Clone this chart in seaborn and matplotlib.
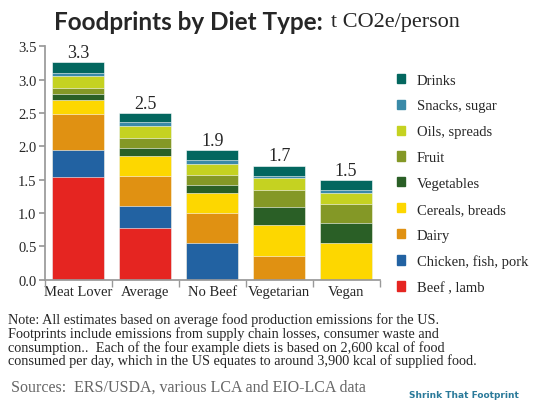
import matplotlib
matplotlib.use("Agg")
import matplotlib.pyplot as plt
from matplotlib.patches import Patch
import seaborn as sns
import numpy as np
import pandas as pd

diets = ["Meat Lover", "Average", "No Beef", "Vegetarian", "Vegan"]
categories = ["Beef , lamb", "Chicken, fish, pork", "Dairy", "Cereals, breads",
              "Vegetables", "Fruit", "Oils, spreads", "Snacks, sugar", "Drinks"]
beef = [1.54, 0.77, 0.0, 0.0, 0.0]
chicken = [0.41, 0.34, 0.55, 0.0, 0.0]
dairy = [0.54, 0.45, 0.45, 0.36, 0.0]
cereals = [0.21, 0.30, 0.30, 0.46, 0.55]
vegetables = [0.08, 0.12, 0.12, 0.27, 0.30]
fruit = [0.09, 0.15, 0.15, 0.26, 0.29]
oils = [0.18, 0.17, 0.17, 0.17, 0.16]
snacks = [0.05, 0.07, 0.06, 0.04, 0.05]
drinks = [0.16, 0.13, 0.14, 0.15, 0.14]
totals = ["3.3", "2.5", "1.9", "1.7", "1.5"]
series = [beef, chicken, dairy, cereals, vegetables, fruit, oils, snacks, drinks]
colors = ["#e52521", "#2262a2", "#e09112", "#fdd700", "#2a5f26",
          "#849826", "#c5d221", "#3a8aa8", "#03675f"]

sns.set_theme(style="white")
plt.rcParams["font.family"] = ["Liberation Serif", "DejaVu Serif"]

fig = plt.figure(figsize=(5.4, 4.1), dpi=100)
ax = fig.add_axes([0.083, 0.315, 0.62, 0.57])

cum = np.cumsum(np.array(series), axis=0)
for k in range(len(series) - 1, -1, -1):
    df = pd.DataFrame({"diet": diets, "v": cum[k]})
    sns.barplot(data=df, x="diet", y="v", color=colors[k], ax=ax, width=0.78,
                saturation=1, edgecolor="white", linewidth=0.4)
bottom = cum[-1]

for i, t in enumerate(totals):
    ax.text(i, bottom[i] + 0.02, t, ha="center", va="bottom", fontsize=13)

ax.set_ylim(0, 3.5)
ax.set_yticks(np.arange(0, 3.51, 0.5))
ax.set_yticklabels([f"{v:.1f}" for v in np.arange(0, 3.51, 0.5)], fontsize=10.5)
ax.set_xticks(range(len(diets)))
ax.set_xticklabels(diets, fontsize=10.5)
ax.set_xlabel(""); ax.set_ylabel("")
ax.set_xlim(-0.5, 4.5)
for s in ["top", "right"]:
    ax.spines[s].set_visible(False)
for s in ["left", "bottom"]:
    ax.spines[s].set_color("#999999")
ax.tick_params(axis="y", left=True, length=4, color="#999999", pad=2)
ax.set_xticks(np.arange(-0.5, 4.6, 1), minor=True)
ax.tick_params(axis="x", which="major", length=0)
ax.tick_params(axis="x", which="minor", length=5, color="#999999", bottom=True)

handles = [Patch(color=c, label=l) for c, l in zip(colors, categories)]
fig.legend(handles=handles[::-1], loc="upper left", bbox_to_anchor=(0.71, 0.85),
           frameon=False, fontsize=10.5, handlelength=0.6, handleheight=0.6,
           labelspacing=0.88)

t1 = fig.text(0.1, 0.945, "Foodprints by Diet Type: ", fontsize=17.5, fontweight="bold",
              family=["Lato", "DejaVu Sans"], va="center")
fig.canvas.draw()
bb = t1.get_window_extent().transformed(fig.transFigure.inverted())
fig.text(bb.x1 + 0.005, 0.945, "t CO2e/person", fontsize=16, va="center")

note = ("Note: All estimates based on average food production emissions for the US.\n"
        "Footprints include emissions from supply chain losses, consumer waste and\n"
        "consumption..  Each of the four example diets is based on 2,600 kcal of food\n"
        "consumed per day, which in the US equates to around 3,900 kcal of supplied food.")
fig.text(0.015, 0.235, note, fontsize=10.3, va="top", linespacing=0.98)
fig.text(0.02, 0.035, "Sources:  ERS/USDA, various LCA and EIO-LCA data", fontsize=11.5,
         color="#666666", va="bottom")
fig.text(0.86, 0.03, "Shrink That Footprint", fontsize=6.5, fontweight="bold",
         color="#2a7a9a", family=["DejaVu Sans"], ha="center")

fig.savefig("out.png", dpi=100)
